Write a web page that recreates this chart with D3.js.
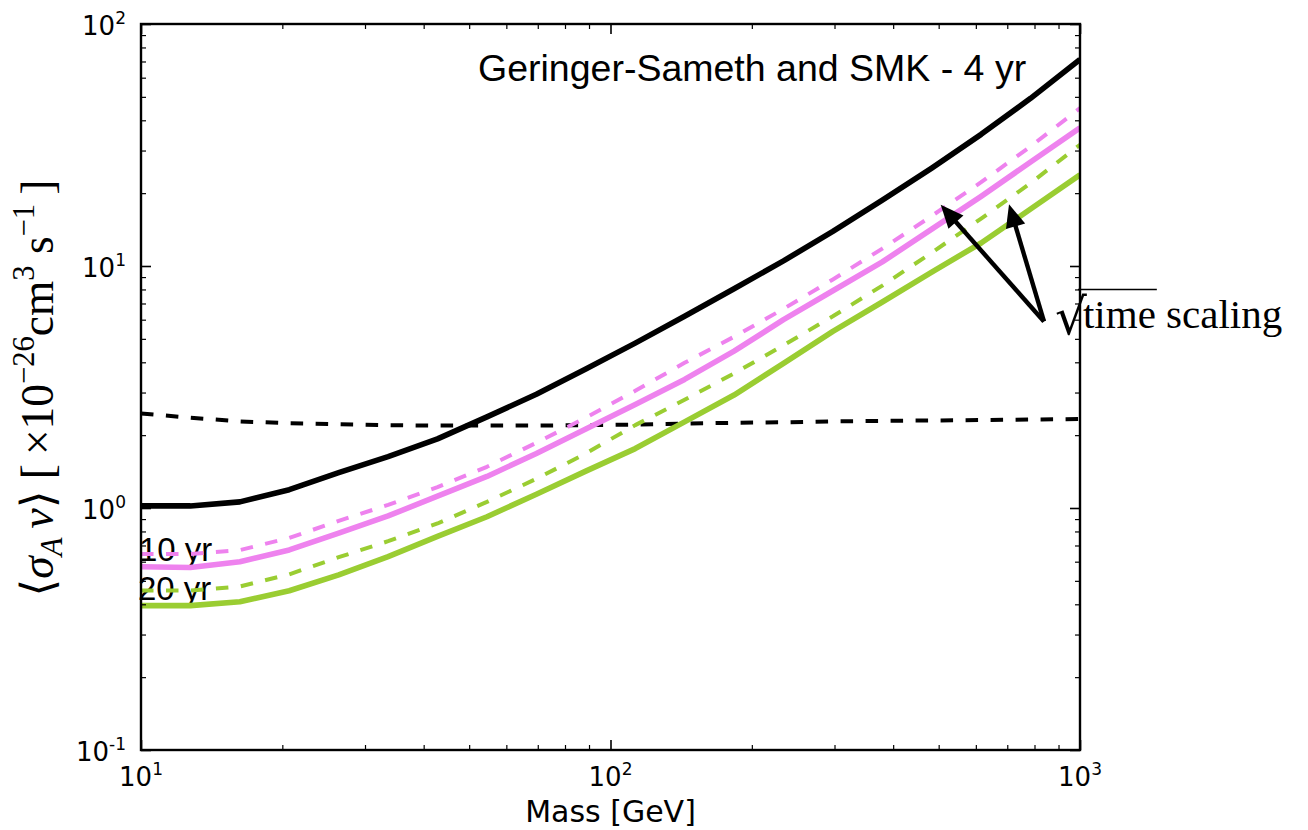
<!DOCTYPE html>
<html>
<head>
<meta charset="utf-8">
<script src="https://cdn.jsdelivr.net/npm/d3@7"></script>
<style>
  body { margin: 0; background: #fff; }
  svg { display: block; }
</style>
</head>
<body>
<svg id="chart" width="1308" height="830"></svg>
<script>
// Dark-matter mass grid (GeV), 20 log-spaced points from 10 GeV to 1 TeV
const massGeV = [10, 12.74, 16.24, 20.69, 26.37, 33.60, 42.81, 54.56, 69.52, 88.59,
                 112.9, 143.8, 183.3, 233.6, 297.6, 379.3, 483.3, 615.8, 784.8, 1000];

// Upper limits on <sigma_A v> in units of 1e-26 cm^3 s^-1
const limit4yr     = [1.02, 1.02, 1.06, 1.19, 1.40, 1.63, 1.93, 2.38, 2.95, 3.75,
                      4.80, 6.20, 8.05, 10.5, 13.9, 18.7, 25.4, 35.0, 49.3, 71.3];
const thermalRelic = [2.46, 2.36, 2.28, 2.24, 2.22, 2.20, 2.19, 2.19, 2.19, 2.20,
                      2.21, 2.23, 2.25, 2.26, 2.28, 2.29, 2.30, 2.31, 2.32, 2.33];
const sqrtScaled10 = [0.645, 0.645, 0.670, 0.752, 0.885, 1.03, 1.22, 1.48, 1.86, 2.36,
                      3.05, 3.98, 5.10, 6.65, 8.80, 11.8, 16.1, 22.2, 31.2, 44.9];
const limit10yr    = [0.572, 0.568, 0.600, 0.671, 0.788, 0.927, 1.12, 1.35, 1.68, 2.12,
                      2.68, 3.40, 4.45, 6.00, 7.90, 10.4, 14.2, 19.4, 26.9, 37.2];
const sqrtScaled20 = [0.456, 0.456, 0.474, 0.532, 0.626, 0.729, 0.863, 1.06, 1.32, 1.68,
                      2.20, 2.80, 3.60, 4.70, 6.20, 8.30, 11.35, 15.7, 22.0, 31.7];
const limit20yr    = [0.395, 0.395, 0.410, 0.455, 0.529, 0.630, 0.763, 0.920, 1.14, 1.42,
                      1.76, 2.27, 2.93, 3.96, 5.37, 7.10, 9.44, 12.45, 17.2, 23.8];

// Axis tick exponents
const xTickExps = [1, 2, 3];
const yTickExps = [-1, 0, 1, 2];

// Arrow annotation: two tips and a shared tail, in data units (mass, <sigma v>)
const arrowTips = [[505, 17.9], [706, 18.0]];
const arrowTail = [838, 5.9];

const PINK = "#ee82ee", GREEN = "#9acd32";

const plot = { left: 141, right: 1080, top: 24, bottom: 750 };
const x = d3.scaleLog().domain([10, 1000]).range([plot.left, plot.right]);
const y = d3.scaleLog().domain([0.1, 100]).range([plot.bottom, plot.top]);

const svg = d3.select("#chart");
svg.append("rect").attr("width", 1308).attr("height", 830).attr("fill", "#fff");

svg.append("defs").append("clipPath").attr("id", "plotClip")
  .append("rect")
  .attr("x", plot.left).attr("y", plot.top)
  .attr("width", plot.right - plot.left).attr("height", plot.bottom - plot.top);

// In-plot labels
const sansFont = "'Liberation Sans', Arial, Helvetica, sans-serif";
svg.append("text").attr("x", 478).attr("y", 81)
  .attr("font-family", sansFont).attr("font-size", 37.5).attr("fill", "#000")
  .text("Geringer-Sameth and SMK - 4 yr");
svg.append("text").attr("x", 139).attr("y", 561)
  .attr("font-family", sansFont).attr("font-size", 33).attr("fill", "#000")
  .text("10 yr");
svg.append("text").attr("x", 138).attr("y", 600)
  .attr("font-family", sansFont).attr("font-size", 33).attr("fill", "#000")
  .text("20 yr");

// Curves
const series = [
  { values: thermalRelic, color: "#000", width: 4.0, dash: "12.5,12.5" },
  { values: limit4yr,     color: "#000", width: 5.6, dash: null },
  { values: sqrtScaled10, color: PINK,   width: 4.0, dash: "12.5,12.5" },
  { values: limit10yr,    color: PINK,   width: 5.6, dash: null },
  { values: sqrtScaled20, color: GREEN,  width: 4.0, dash: "12.5,12.5" },
  { values: limit20yr,    color: GREEN,  width: 5.6, dash: null }
];
const line = d3.line().x(d => x(d[0])).y(d => y(d[1]));
const curves = svg.append("g").attr("clip-path", "url(#plotClip)");
series.forEach(s => {
  curves.append("path")
    .datum(massGeV.map((m, i) => [m, s.values[i]]))
    .attr("d", line)
    .attr("fill", "none")
    .attr("stroke", s.color)
    .attr("stroke-width", s.width)
    .attr("stroke-linejoin", "round")
    .attr("stroke-dasharray", s.dash);
});

// Frame and ticks (inward, on all four sides)
function minorValues(scale) {
  const [a, b] = scale.domain();
  const out = [];
  for (let e = Math.round(Math.log10(a)); e < Math.round(Math.log10(b)); e++) {
    for (let k = 2; k <= 9; k++) out.push(k * Math.pow(10, e));
  }
  return out;
}
function tickAxis(axisFn, scale, values, size, tx, ty, width) {
  const g = svg.append("g").attr("transform", `translate(${tx},${ty})`)
    .call(axisFn(scale).tickValues(values).tickSize(size).tickFormat(""));
  g.select(".domain").remove();
  g.selectAll(".tick line").attr("stroke", "#000").attr("stroke-width", width);
}
const xMajor = xTickExps.map(e => Math.pow(10, e));
const yMajor = yTickExps.map(e => Math.pow(10, e));
tickAxis(d3.axisBottom, x, minorValues(x), -5, 0, plot.bottom, 1.2);
tickAxis(d3.axisTop,    x, minorValues(x), -5, 0, plot.top, 1.2);
tickAxis(d3.axisBottom, x, xMajor, -10, 0, plot.bottom, 1.6);
tickAxis(d3.axisTop,    x, xMajor, -10, 0, plot.top, 1.6);
tickAxis(d3.axisLeft,   y, minorValues(y), -5, plot.left, 0, 1.2);
tickAxis(d3.axisRight,  y, minorValues(y), -5, plot.right, 0, 1.2);
tickAxis(d3.axisLeft,   y, yMajor, -10, plot.left, 0, 1.6);
tickAxis(d3.axisRight,  y, yMajor, -10, plot.right, 0, 1.6);

svg.append("rect")
  .attr("x", plot.left).attr("y", plot.top)
  .attr("width", plot.right - plot.left).attr("height", plot.bottom - plot.top)
  .attr("fill", "none").attr("stroke", "#000").attr("stroke-width", 2.4);

// Tick labels as 10^n
const tickFont = "'DejaVu Sans', sans-serif";
function powerLabel(sel, exp) {
  sel.append("tspan").text("10");
  sel.append("tspan").attr("font-size", 17).attr("dy", -11)
    .text(exp < 0 ? "-" + Math.abs(exp) : String(exp));
}
xTickExps.forEach(e => {
  svg.append("text").attr("x", x(Math.pow(10, e))).attr("y", 786)
    .attr("text-anchor", "middle").attr("font-family", tickFont)
    .attr("font-size", 26).attr("fill", "#000")
    .call(powerLabel, e);
});
yTickExps.forEach(e => {
  svg.append("text").attr("x", 126).attr("y", y(Math.pow(10, e)) + 10.5)
    .attr("text-anchor", "end").attr("font-family", tickFont)
    .attr("font-size", 26).attr("fill", "#000")
    .call(powerLabel, e);
});

// Axis titles
svg.append("text").attr("x", (plot.left + plot.right) / 2).attr("y", 822)
  .attr("text-anchor", "middle").attr("font-family", tickFont)
  .attr("font-size", 30).attr("fill", "#000")
  .text("Mass [GeV]");

const serif = "'Liberation Serif', 'DejaVu Serif', serif";
const yTitleG = svg.append("g");
const yTitle = yTitleG.append("text")
  .attr("text-anchor", "middle").attr("font-family", serif)
  .attr("font-size", 40).attr("fill", "#000");
const SUB = 27;
yTitle.append("tspan").text("\u27E8");
yTitle.append("tspan").attr("font-style", "italic").text("\u03C3");
yTitle.append("tspan").attr("font-style", "italic").attr("font-size", SUB).attr("dy", 8).text("A");
yTitle.append("tspan").attr("font-style", "italic").attr("dy", -8).text("\u2009v");
yTitle.append("tspan").text("\u27E9 [\u2009\u00D710");
yTitle.append("tspan").attr("font-size", SUB).attr("dy", -17).text("\u221226");
yTitle.append("tspan").attr("dy", 17).text("cm");
yTitle.append("tspan").attr("font-size", SUB).attr("dy", -17).text("3");
yTitle.append("tspan").attr("dy", 17).text(" s");
yTitle.append("tspan").attr("font-size", SUB).attr("dy", -17).text("\u22121");
yTitle.append("tspan").attr("dy", 17).text("\u2009]");
const yLen = yTitle.node().getComputedTextLength();
const yScaleK = 417 / yLen;
yTitleG.attr("transform", `translate(53,388) rotate(-90) scale(${yScaleK})`);

// Arrows from the annotation to the scaled curves
const tail = [x(arrowTail[0]), y(arrowTail[1])];
const arrows = svg.append("g");
arrowTips.forEach(t => {
  const tip = [x(t[0]), y(t[1])];
  const dx = tip[0] - tail[0], dy = tip[1] - tail[1];
  const len = Math.hypot(dx, dy);
  const ux = dx / len, uy = dy / len;
  const headLen = 23, headHalf = 10;
  const base = [tip[0] - ux * headLen, tip[1] - uy * headLen];
  arrows.append("line")
    .attr("x1", tail[0]).attr("y1", tail[1])
    .attr("x2", base[0] + ux * 2).attr("y2", base[1] + uy * 2)
    .attr("stroke", "#000").attr("stroke-width", 4.4);
  arrows.append("path")
    .attr("d", `M${tip[0]},${tip[1]} L${base[0] - uy * headHalf},${base[1] + ux * headHalf} L${base[0] + uy * headHalf},${base[1] - ux * headHalf} Z`)
    .attr("fill", "#000");
});

// "sqrt(time) scaling" label: radical glyph, overlined "time", then "scaling"
const noteFont = 41;
const noteX = tail[0] + 11, noteBase = tail[1] + 7;
const note = svg.append("text")
  .attr("x", noteX).attr("y", noteBase)
  .attr("font-family", serif).attr("font-size", noteFont).attr("fill", "#000");
note.append("tspan").attr("font-family", "'DejaVu Serif', serif")
  .attr("font-size", 50).attr("dy", 6).text("\u221A");
note.append("tspan").attr("x", noteX + 28).attr("dy", -6).text("time");
note.append("tspan").text(" scaling");
const nn = note.node();
const timeStart = nn.getStartPositionOfChar(1).x;
const timeEnd = nn.getEndPositionOfChar(4).x;
svg.append("line")
  .attr("x1", timeStart - 5).attr("x2", timeEnd + 1)
  .attr("y1", noteBase - 0.95 * noteFont).attr("y2", noteBase - 0.95 * noteFont)
  .attr("stroke", "#000").attr("stroke-width", 1.6);
</script>
</body>
</html>
